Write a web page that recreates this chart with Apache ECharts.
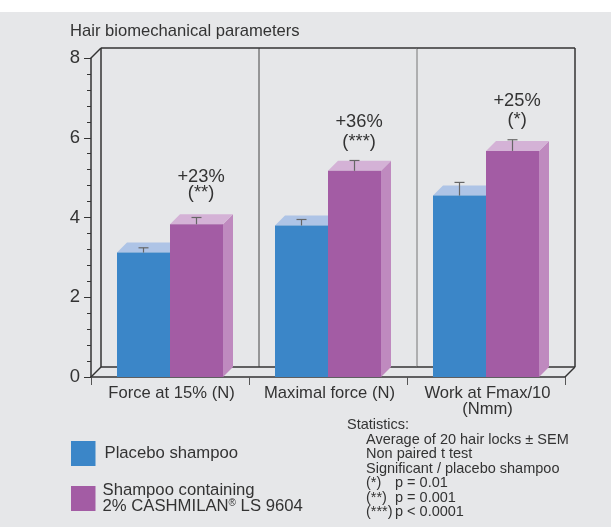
<!DOCTYPE html>
<html><head><meta charset="utf-8">
<style>html,body{margin:0;padding:0;background:#fff}#c{width:611px;height:527px}</style>
<script src="https://cdn.jsdelivr.net/npm/echarts@6/dist/echarts.min.js"></script>
</head><body><div id="c"></div>
<script>
const categories = ['Force at 15% (N)', 'Maximal force (N)', 'Work at Fmax/10\n(Nmm)'];
const placebo = [3.12, 3.80, 4.55];
const placeboErrTop = [3.24, 3.95, 4.88];
const cashmilan = [3.83, 5.17, 5.67];
const cashmilanErrTop = [4.00, 5.43, 5.95];
const gainLabels = ['+23%', '+36%', '+25%'];
const gainLabelLevels = [5.01, 6.39, 6.92];
const sigLabels = ['(**)', '(***)', '(*)'];
const sigLabelLevels = [4.61, 5.89, 6.44];
const statIntro = ['Average of 20 hair locks ± SEM', 'Non paired t test', 'Significant / placebo shampoo'];
const statMarks = ['(*)', '(**)', '(***)'];
const statP = ['p = 0.01', 'p = 0.001', 'p < 0.0001'];

const FONT = '"Liberation Sans", Arial, sans-serif';
const INK = '#333333';
const DEPTH = 10;
const BAR_RATIO = 53 / 158;
const NAME_A = 'Placebo shampoo', NAME_B = 'Shampoo containing\n2% CASHMILAN® LS 9604';

function barRenderer(side, front, top, flank) {
  return function (params, api) {
    const i = api.value(0);
    const band = api.size([1, 0])[0];
    const w = band * BAR_RATIO;
    const c = api.coord([i, api.value(1)]);
    const base = api.coord([i, 0]);
    const err = api.coord([i, api.value(2)]);
    const x0 = c[0] + (side < 0 ? -w : 0), x1 = x0 + w, y = c[1], yb = base[1];
    const mid = (x0 + x1) / 2;
    return { type: 'group', children: [
      { type: 'polygon', shape: { points: [[x1, y], [x1 + DEPTH, y - DEPTH], [x1 + DEPTH, yb - DEPTH], [x1, yb]] }, style: { fill: flank } },
      { type: 'polygon', shape: { points: [[x0, y], [x0 + DEPTH, y - DEPTH], [x1 + DEPTH, y - DEPTH], [x1, y]] }, style: { fill: top } },
      { type: 'rect', shape: { x: x0, y: y, width: w, height: yb - y }, style: { fill: front } },
      { type: 'line', shape: { x1: mid, y1: y, x2: mid, y2: err[1] }, style: { stroke: '#666', lineWidth: 1.2 } },
      { type: 'line', shape: { x1: mid - 5, y1: err[1], x2: mid + 5, y2: err[1] }, style: { stroke: '#666', lineWidth: 1.2 } }
    ] };
  };
}

function wallRenderer(params, api) {
  const i = api.value(0), n = categories.length;
  const band = api.size([1, 0])[0];
  const b = api.coord([i, 0]), t = api.coord([i, 8]);
  const l = b[0] - band / 2, r = b[0] + band / 2;
  const stroke = { stroke: INK, lineWidth: 1.5 };
  const seg = (x1, y1, x2, y2, s) => ({ type: 'line', shape: { x1, y1, x2, y2 }, style: s || stroke });
  const kids = [
    seg(l + DEPTH, t[1] - DEPTH, r + DEPTH, t[1] - DEPTH),
    seg(l + DEPTH, b[1] - DEPTH, r + DEPTH, b[1] - DEPTH),
    seg(r + DEPTH, t[1] - DEPTH, r + DEPTH, b[1] - DEPTH, i === n - 1 ? stroke : { stroke: i === 0 ? '#444' : '#777', lineWidth: 1 })
  ];
  if (i === 0) kids.push(seg(l + DEPTH, t[1] - DEPTH, l + DEPTH, b[1] - DEPTH), seg(l, t[1], l + DEPTH, t[1] - DEPTH), seg(l, b[1], l + DEPTH, b[1] - DEPTH));
  if (i === n - 1) kids.push(seg(r, b[1], r + DEPTH, b[1] - DEPTH));
  return { type: 'group', children: kids };
}

function noteRenderer(params, api) {
  const i = api.value(0);
  const band = api.size([1, 0])[0];
  const a = api.coord([i, api.value(1)]), s = api.coord([i, api.value(2)]);
  const x = a[0] + band * 0.165 + DEPTH / 2;
  const st = (text, y) => ({ type: 'text', x, y, style: { text, fill: INK, font: '18.3px ' + FONT, align: 'center', verticalAlign: 'middle' } });
  return { type: 'group', children: [st(gainLabels[i], a[1]), st(sigLabels[i], s[1])] };
}

const statGraphics = [{ type: 'rect', z: -10, shape: { x: 0, y: 12, width: 611, height: 515 }, style: { fill: '#e6e7e9' } }];
const statStyle = { fill: INK, font: '14.5px ' + FONT, verticalAlign: 'middle' };
const addStat = (x, y, text) => statGraphics.push({ type: 'text', x, y, style: Object.assign({ text }, statStyle) });
addStat(347, 425, 'Statistics:');
statIntro.forEach((t, k) => addStat(366, 439.5 + k * 14.5, t));
statMarks.forEach((t, k) => { addStat(366, 483 + k * 14.6, t); addStat(395, 483 + k * 14.6, statP[k]); });

const legendBase = {
  orient: 'vertical', left: 66, itemWidth: 24.5, itemHeight: 25, itemGap: 0, itemStyle: { borderWidth: 0 },
  selectedMode: false, icon: 'rect'
};
const legendText = { fontFamily: FONT, fontSize: 16.7, color: INK, lineHeight: 16 };

const chart = echarts.init(document.getElementById('c'), null, { renderer: 'canvas' });
chart.setOption({
  animation: false,
  backgroundColor: '#ffffff',
  textStyle: { fontFamily: FONT, color: INK },
  title: { text: 'Hair biomechanical parameters', left: 65, top: 18, textStyle: { fontFamily: FONT, fontSize: 16.6, fontWeight: 'normal', color: INK } },
  grid: { left: 91, right: 46, top: 58, bottom: 150 },
  legend: [
    Object.assign({}, legendBase, { top: 436, data: [NAME_A], textStyle: Object.assign({}, legendText, { padding: [9, 0, 0, 4] }) }),
    Object.assign({}, legendBase, { top: 477, data: [NAME_B],
      formatter: n => n.replace('®', '{sup|®}'),
      textStyle: Object.assign({}, legendText, { padding: [0, 0, 0, 2], rich: { sup: { fontFamily: FONT, fontSize: 10, color: INK, lineHeight: 16, verticalAlign: 'top' } } }) })
  ],
  xAxis: {
    type: 'category', data: categories,
    axisLine: { lineStyle: { color: INK, width: 1.5 } },
    axisTick: { show: true, length: 8, alignWithLabel: false, lineStyle: { color: '#555', width: 1 } },
    axisLabel: { fontFamily: FONT, fontSize: 16.6, color: INK, margin: 8, lineHeight: 16.5, interval: 0, padding: [0, 0, 0, 3] }
  },
  yAxis: {
    type: 'value', min: 0, max: 8, interval: 2,
    axisLine: { show: true, lineStyle: { color: INK, width: 1.5 } },
    axisTick: { show: true, length: 7, lineStyle: { color: INK, width: 1 } },
    minorTick: { show: true, splitNumber: 5, length: 4, lineStyle: { color: INK, width: 1 } },
    splitLine: { show: false },
    axisLabel: { fontFamily: FONT, fontSize: 18.5, color: INK, margin: 11, padding: [2, 0, 0, 0] }
  },
  graphic: statGraphics,
  series: [
    { type: 'custom', silent: true, z: 1, renderItem: wallRenderer, encode: { x: 0, y: 1 }, data: categories.map((c, i) => [i, 0]) },
    { type: 'custom', name: NAME_A, silent: true, z: 2, itemStyle: { color: '#3b86c8' },
      renderItem: barRenderer(-1, '#3b86c8', '#aec4e6', '#8fb0dc'), encode: { x: 0, y: [1, 2] },
      data: placebo.map((v, i) => [i, v, placeboErrTop[i]]) },
    { type: 'custom', name: NAME_B, silent: true, z: 3, itemStyle: { color: '#a35ca4' },
      renderItem: barRenderer(1, '#a35ca4', '#d4b2d6', '#bf8abf'), encode: { x: 0, y: [1, 2] },
      data: cashmilan.map((v, i) => [i, v, cashmilanErrTop[i]]) },
    { type: 'custom', silent: true, z: 4, renderItem: noteRenderer, encode: { x: 0, y: [1, 2] },
      data: gainLabelLevels.map((v, i) => [i, v, sigLabelLevels[i]]) }
  ]
});
</script></body></html>
